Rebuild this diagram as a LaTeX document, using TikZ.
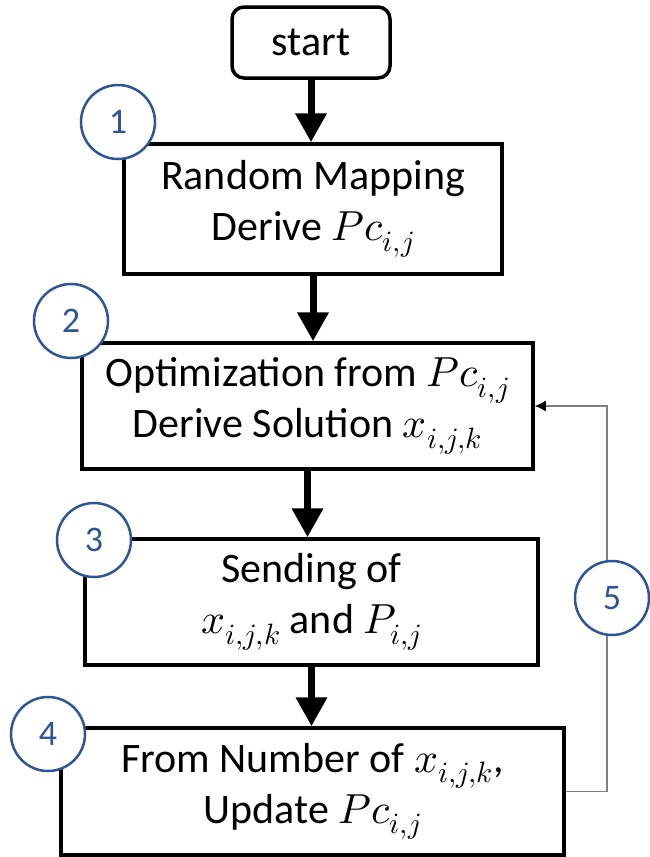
\documentclass[tikz,border=0pt]{standalone}
\usepackage{fontspec}
\usepackage{unicode-math}
\setmainfont{Carlito}
\setmathfont{Latin Modern Math}
\usetikzlibrary{arrows.meta}
\definecolor{cblue}{HTML}{2F5597}
\definecolor{fbgray}{HTML}{7F7F7F}
\tikzset{
  stepbox/.style={draw=black, line width=3.5pt, fill=white, align=center,
    font=\fontsize{42}{51}\selectfont, inner sep=0pt},
  startbox/.style={stepbox, rounded corners=12pt},
  numcirc/.style={circle, draw=cblue, line width=2.5pt, fill=white,
    minimum size=74pt, inner sep=0pt, text=cblue, font=\fontsize{36}{36}\selectfont},
  mainarrow/.style={line width=7pt, -{Triangle[length=29pt,width=30pt]}},
  fbarrow/.style={draw=fbgray, line width=1.6pt, -{Latex[length=11pt,width=11pt,color=black]}}
}
\begin{document}
\begin{tikzpicture}[x=1pt,y=-1pt]
\useasboundingbox (0,0) rectangle (649,857);
\node[startbox, minimum width=158pt, minimum height=71pt] (start) at (311,42.5) {start};
\node[stepbox, minimum width=378pt, minimum height=130pt] (b1) at (313,209)
  {Random Mapping\\Derive $Pc_{i,j}$};
\node[stepbox, minimum width=451pt, minimum height=126pt] (b2) at (307.5,406)
  {Optimization from $Pc_{i,j}$\\Derive Solution $x_{i,j,k}$};
\node[stepbox, minimum width=453pt, minimum height=126pt] (b3) at (311.5,602)
  {Sending of\\$x_{i,j,k}$ and $P_{i,j}$};
\node[stepbox, minimum width=503pt, minimum height=127pt] (b4) at (312.5,791.5)
  {From Number of $x_{i,j,k}$,\\Update $Pc_{i,j}$};
\draw[mainarrow] (start.south) -- (start.south |- b1.north);
\draw[mainarrow] (b1.south) -- (b1.south |- b2.north);
\draw[mainarrow] (b2.south) -- (b2.south |- b3.north);
\draw[mainarrow] (b3.south) -- (b3.south |- b4.north);
\coordinate (fbx) at (607,0);
\draw[fbarrow] (b4.east) -- (fbx |- b4.east) -- (fbx |- b2.east) -- (b2.east);
\node[numcirc] (c1) at (118,122) {1};
\node[numcirc] (c2) at (71,321) {2};
\node[numcirc] (c3) at (94,540) {3};
\node[numcirc] (c4) at (48,734) {4};
\node[numcirc] (c5) at (612,598) {5};
\end{tikzpicture}
\end{document}
